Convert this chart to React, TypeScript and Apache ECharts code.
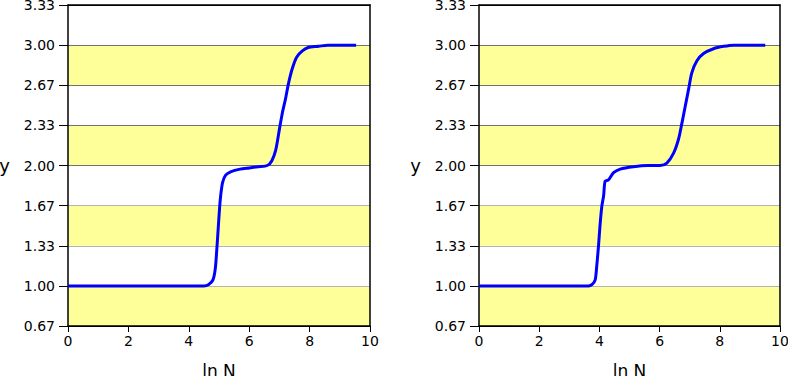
import React, { useEffect, useRef } from "react";
import * as echarts from "echarts";

const leftX = [0, 1, 2, 3, 4, 4.5, 4.65, 4.8, 4.88, 4.94, 4.98, 5.02, 5.06, 5.12, 5.22, 5.4, 5.7, 6.0, 6.3, 6.6, 6.75, 6.88, 7.0, 7.1, 7.2, 7.3, 7.42, 7.57, 7.75, 7.95, 8.3, 8.6, 9.0, 9.54];
const leftY = [1, 1, 1, 1, 1, 1, 1.01, 1.05, 1.15, 1.35, 1.5, 1.65, 1.76, 1.86, 1.92, 1.95, 1.97, 1.98, 1.99, 2.0, 2.04, 2.13, 2.3, 2.44, 2.55, 2.68, 2.8, 2.9, 2.95, 2.98, 2.99, 3.0, 3.0, 3.0];
const rightX = [0, 1, 2, 3, 3.5, 3.64, 3.75, 3.86, 3.91, 3.97, 4.02, 4.08, 4.14, 4.19, 4.3, 4.47, 4.69, 5.13, 5.6, 6.02, 6.24, 6.46, 6.63, 6.74, 6.85, 6.96, 7.07, 7.24, 7.46, 7.79, 8.13, 8.46, 9.0, 9.51];
const rightY = [1, 1, 1, 1, 1, 1, 1.01, 1.05, 1.16, 1.33, 1.5, 1.66, 1.75, 1.87, 1.88, 1.94, 1.97, 1.99, 2.0, 2.0, 2.02, 2.1, 2.22, 2.35, 2.49, 2.63, 2.77, 2.87, 2.93, 2.97, 2.99, 3.0, 3.0, 3.0];

const yMin = 2 / 3;
const yMax = 10 / 3;
const yStep = 1 / 3;
const xMin = 0;
const xMax = 10;
const xStep = 2;
const xName = "ln N";
const yName = "y";

const FONT = "DejaVu Sans";

export default function App() {
  const ref = useRef<HTMLDivElement>(null);
  useEffect(() => {
    document.body.style.margin = "0";
    const chart = echarts.init(ref.current!, null, { renderer: "svg" });
    const grids = [
      { left: 68, top: 5, width: 302, height: 321, outerBoundsMode: "none", containLabel: false },
      { left: 479, top: 5, width: 301, height: 321, outerBoundsMode: "none", containLabel: false },
    ];
    const xAxes: any[] = [];
    const yAxes: any[] = [];
    grids.forEach((g, i) => {
      xAxes.push({
        type: "value",
        gridIndex: i,
        min: xMin,
        max: xMax,
        interval: xStep,
        name: xName,
        nameLocation: "middle",
        nameGap: 36,
        nameTextStyle: { fontFamily: FONT, fontSize: 17, color: "#000" },
        axisLine: { show: true, lineStyle: { color: "#000", width: 1.5 } },
        axisTick: { show: true, length: 6, lineStyle: { color: "#000" } },
        axisLabel: { fontFamily: FONT, fontSize: 14, color: "#000", margin: 8 },
        splitLine: { show: false },
      });
      xAxes.push({
        type: "value",
        gridIndex: i,
        position: "top",
        min: xMin,
        max: xMax,
        axisLine: { show: true, onZero: false, lineStyle: { color: "#000", width: 1.5 } },
        axisTick: { show: false },
        axisLabel: { show: false },
        splitLine: { show: false },
      });
      yAxes.push({
        type: "value",
        gridIndex: i,
        min: yMin,
        max: yMax,
        interval: yStep,
        name: yName,
        nameLocation: "middle",
        nameRotate: 0,
        nameGap: 58,
        nameTextStyle: { fontFamily: FONT, fontSize: 18, color: "#000" },
        axisLine: { show: true, lineStyle: { color: "#000", width: 1.5 } },
        axisTick: { show: true, length: 9, lineStyle: { color: "#000" } },
        axisLabel: {
          fontFamily: FONT,
          fontSize: 14,
          color: "#000",
          margin: 13,
          formatter: (v: number) => v.toFixed(2),
        },
        splitLine: {
          show: true,
          lineStyle: {
            width: 1,
            color: ["#000", "#b4b4b4", "#b4b4b4", "#b4b4b4", "#707070", "#707070", "#707070", "#707070", "#000"],
          },
        },
        splitArea: { show: true, areaStyle: { color: ["#ffff99", "#ffffff"] } },
      });
      yAxes.push({
        type: "value",
        gridIndex: i,
        position: "right",
        min: yMin,
        max: yMax,
        axisLine: { show: true, onZero: false, lineStyle: { color: "#000", width: 1.5 } },
        axisTick: { show: false },
        axisLabel: { show: false },
        splitLine: { show: false },
      });
    });
    const mk = (xs: number[], ys: number[]) => xs.map((x, k) => [x, ys[k]]);
    chart.setOption({
      animation: false,
      backgroundColor: "#fff",
      grid: grids,
      xAxis: xAxes,
      yAxis: yAxes,
      series: [
        {
          type: "line",
          xAxisIndex: 0,
          yAxisIndex: 0,
          data: mk(leftX, leftY),
          showSymbol: false,
          smooth: 0.25,
          lineStyle: { color: "#0000ff", width: 3 },
        },
        {
          type: "line",
          xAxisIndex: 2,
          yAxisIndex: 2,
          data: mk(rightX, rightY),
          showSymbol: false,
          smooth: 0.25,
          lineStyle: { color: "#0000ff", width: 3 },
        },
      ],
    });
    return () => chart.dispose();
  }, []);
  return <div ref={ref} style={{ width: 788, height: 376 }} />;
}
